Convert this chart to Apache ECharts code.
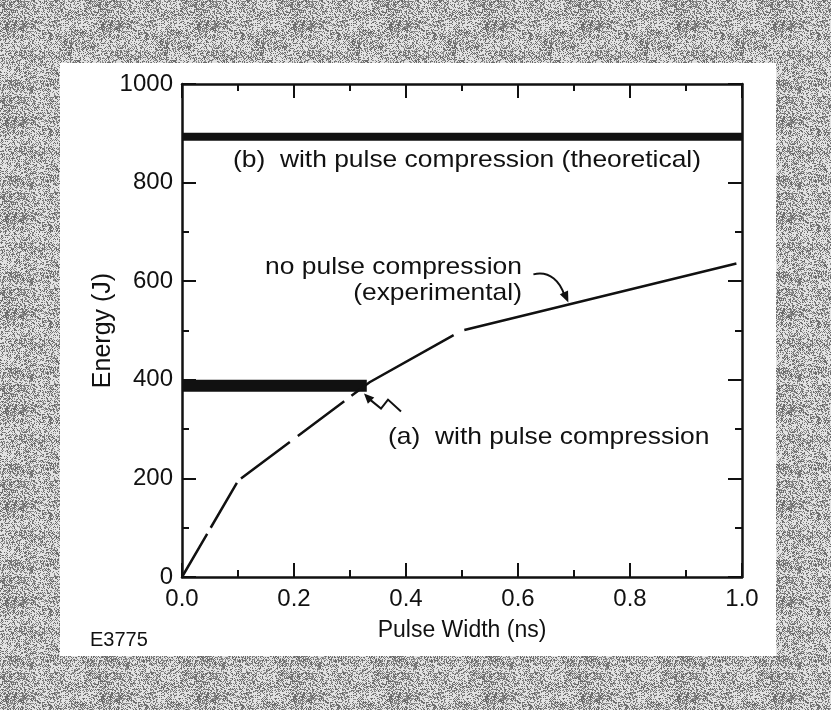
<!DOCTYPE html>
<html>
<head>
<meta charset="utf-8">
<script src="https://cdn.jsdelivr.net/npm/echarts@6/dist/echarts.min.js"></script>
<style>
  html, body { margin: 0; padding: 0; background: #fff; }
  #chart { width: 831px; height: 710px; }
</style>
</head>
<body>
<div id="chart"></div>
<script>
// Axis ticks
const xTickValues = [0, 0.2, 0.4, 0.6, 0.8, 1.0];
const yTickValues = [0, 200, 400, 600, 800, 1000];

// No pulse compression (experimental): pulse width (ns) vs energy (J)
const noCompressionWidth = [0, 0.1, 0.335, 0.5, 0.99];
const noCompressionEnergy = [0, 195, 395, 500, 636];

// (b) with pulse compression (theoretical)
const theoreticalWidth = [0, 1.0];
const theoreticalEnergy = [893, 893];

// (a) with pulse compression
const compressedWidth = [0, 0.33];
const compressedEnergy = [388, 388];

const FONT = '"Liberation Sans", Arial, Helvetica, sans-serif';
const INK = '#111';

function zip(xs, ys) { return xs.map((x, i) => [x, ys[i]]); }

// Halftone texture for the surrounding mat (integer hash dither, repeatable)
function halftone() {
  const n = 96;
  const c = document.createElement('canvas');
  c.width = n; c.height = n;
  const g = c.getContext('2d');
  g.fillStyle = '#e2e2e2';
  g.fillRect(0, 0, n, n);
  const hash = (x, y) => {
    let h = (x * 374761393 + y * 668265263) | 0;
    h = Math.imul(h ^ (h >>> 13), 1274126177);
    return ((h ^ (h >>> 16)) >>> 0) / 4294967296;
  };
  for (let y = 0; y < n; y++) {
    for (let x = 0; x < n; x++) {
      // coarse blotches modulate dot density on a fine screen
      const bx = Math.floor(x / 12), by = Math.floor(y / 10);
      const density = 0.3 + 0.3 * hash(bx + 101, by + 57);
      const screen = ((x + y) & 1) === 0 ? 0.12 : -0.12;
      if (hash(x, y) < density + screen) {
        g.fillStyle = hash(x + 7, y + 3) < 0.5 ? '#6a6a6a' : '#8c8c8c';
        g.fillRect(x, y, 1, 1);
      }
    }
  }
  return c;
}

const chart = echarts.init(document.getElementById('chart'), null, { renderer: 'canvas' });

const axisLine = { show: true, onZero: false, lineStyle: { color: INK, width: 2.5 } };
const axisTick = { show: true, inside: true, length: 14, lineStyle: { color: INK, width: 2 } };
const minorTick = { show: true, splitNumber: 2, length: 7, lineStyle: { color: INK, width: 2 } };
const tickLabelStyle = { color: INK, fontSize: 24, fontFamily: FONT };

const xAxisBase = {
  type: 'value', min: xTickValues[0], max: xTickValues[xTickValues.length - 1],
  interval: xTickValues[1] - xTickValues[0],
  axisLine, axisTick, minorTick, splitLine: { show: false }
};
const yAxisBase = {
  type: 'value', min: yTickValues[0], max: yTickValues[yTickValues.length - 1],
  interval: yTickValues[1] - yTickValues[0],
  axisLine, axisTick, minorTick, splitLine: { show: false }
};

chart.setOption({
  animation: false,
  backgroundColor: 'transparent',
  grid: { left: 182, right: 89, top: 84, bottom: 133, containLabel: false },
  xAxis: [
    Object.assign({}, xAxisBase, {
      position: 'bottom',
      axisLabel: Object.assign({ margin: 10, formatter: v => v.toFixed(1) }, tickLabelStyle),
      name: 'Pulse Width (ns)', nameLocation: 'middle', nameGap: 42, nameMoveOverlap: false,
      nameTextStyle: { color: INK, fontSize: 23, fontFamily: FONT }
    }),
    Object.assign({}, xAxisBase, { position: 'top', axisLabel: { show: false } })
  ],
  yAxis: [
    Object.assign({}, yAxisBase, {
      position: 'left',
      axisLabel: Object.assign({ margin: 9, formatter: v => String(v) }, tickLabelStyle),
      name: 'Energy (J)', nameLocation: 'middle', nameGap: 66, nameMoveOverlap: false,
      nameTextStyle: { color: INK, fontSize: 25, fontFamily: FONT }
    }),
    Object.assign({}, yAxisBase, { position: 'right', axisLabel: { show: false } })
  ],
  series: [
    {
      name: '(b) with pulse compression (theoretical)', type: 'line',
      data: zip(theoreticalWidth, theoreticalEnergy),
      showSymbol: false, silent: true, z: 3,
      lineStyle: { color: INK, width: 8, cap: 'butt' }
    },
    {
      name: '(a) with pulse compression', type: 'line',
      data: zip(compressedWidth, compressedEnergy),
      showSymbol: false, silent: true, z: 3,
      lineStyle: { color: INK, width: 12, cap: 'butt' }
    },
    {
      name: 'no pulse compression (experimental)', type: 'line',
      data: zip(noCompressionWidth, noCompressionEnergy),
      showSymbol: false, silent: true, z: 4,
      lineStyle: {
        color: INK, width: 2.5, cap: 'butt', join: 'miter',
        type: [50, 7, 52, 6, 61, 10, 58, 9, 119, 12, 420]
      }
    }
  ]
});

// Annotations placed in data space
const P = (x, y) => chart.convertToPixel({ xAxisIndex: 0, yAxisIndex: 0 }, [x, y]);
const textEl = (text, pt, align) => ({
  type: 'text', z: 50, x: pt[0], y: pt[1], scaleX: 1.1,
  style: {
    text, x: 0, y: 0, fill: INK,
    font: '24px ' + FONT,
    textAlign: align, textVerticalAlign: 'middle'
  }
});

function arrowHead(tip, from, len, half) {
  const dx = tip[0] - from[0], dy = tip[1] - from[1];
  const d = Math.hypot(dx, dy);
  const ux = dx / d, uy = dy / d;
  const bx = tip[0] - ux * len, by = tip[1] - uy * len;
  return {
    type: 'polygon', z: 50,
    shape: { points: [tip, [bx - uy * half, by + ux * half], [bx + uy * half, by - ux * half]] },
    style: { fill: INK }
  };
}

const tipB = P(0.69, 557);
const curveStart = [tipB[0] - 35, tipB[1] - 28];
const curveEnd = [tipB[0] - 4, tipB[1] - 7];

const tipA = P(0.325, 372);
const squiggle = [
  [tipA[0] + 6, tipA[1] + 6],
  [tipA[0] + 17, tipA[1] + 15],
  [tipA[0] + 24, tipA[1] + 6],
  [tipA[0] + 37, tipA[1] + 18]
];

const W = 831, H = 710;
const panel = { x: 60, y: 63, w: 716, h: 593 };

chart.setOption({
  graphic: [
    { type: 'rect', z: -100, silent: true, shape: { x: 0, y: 0, width: W, height: H },
      style: { fill: { image: halftone(), repeat: 'repeat' } } },
    { type: 'rect', z: -99, silent: true, shape: { x: panel.x, y: panel.y, width: panel.w, height: panel.h },
      style: { fill: '#ffffff' } },
    textEl('(b)  with pulse compression (theoretical)', P(0.091, 846), 'left'),
    textEl('no pulse compression', P(0.607, 629), 'right'),
    textEl('(experimental)', P(0.607, 576), 'right'),
    textEl('(a)  with pulse compression', P(0.368, 284), 'left'),
    {
      type: 'bezierCurve', z: 50,
      shape: {
        x1: curveStart[0], y1: curveStart[1],
        cpx1: tipB[0] - 18, cpy1: tipB[1] - 32,
        cpx2: tipB[0] - 8, cpy2: tipB[1] - 20,
        x2: curveEnd[0], y2: curveEnd[1]
      },
      style: { stroke: INK, lineWidth: 2, fill: null }
    },
    arrowHead(tipB, [tipB[0] - 8, tipB[1] - 18], 11, 4.5),
    {
      type: 'polyline', z: 50,
      shape: { points: squiggle },
      style: { stroke: INK, lineWidth: 2, fill: null }
    },
    arrowHead(tipA, squiggle[0], 10, 4.5),
    { type: 'text', z: 50, style: { text: 'E3775', x: 90, y: 640, fill: INK,
      font: '20px ' + FONT, textAlign: 'left', textVerticalAlign: 'middle' } }
  ]
});
</script>
</body>
</html>
